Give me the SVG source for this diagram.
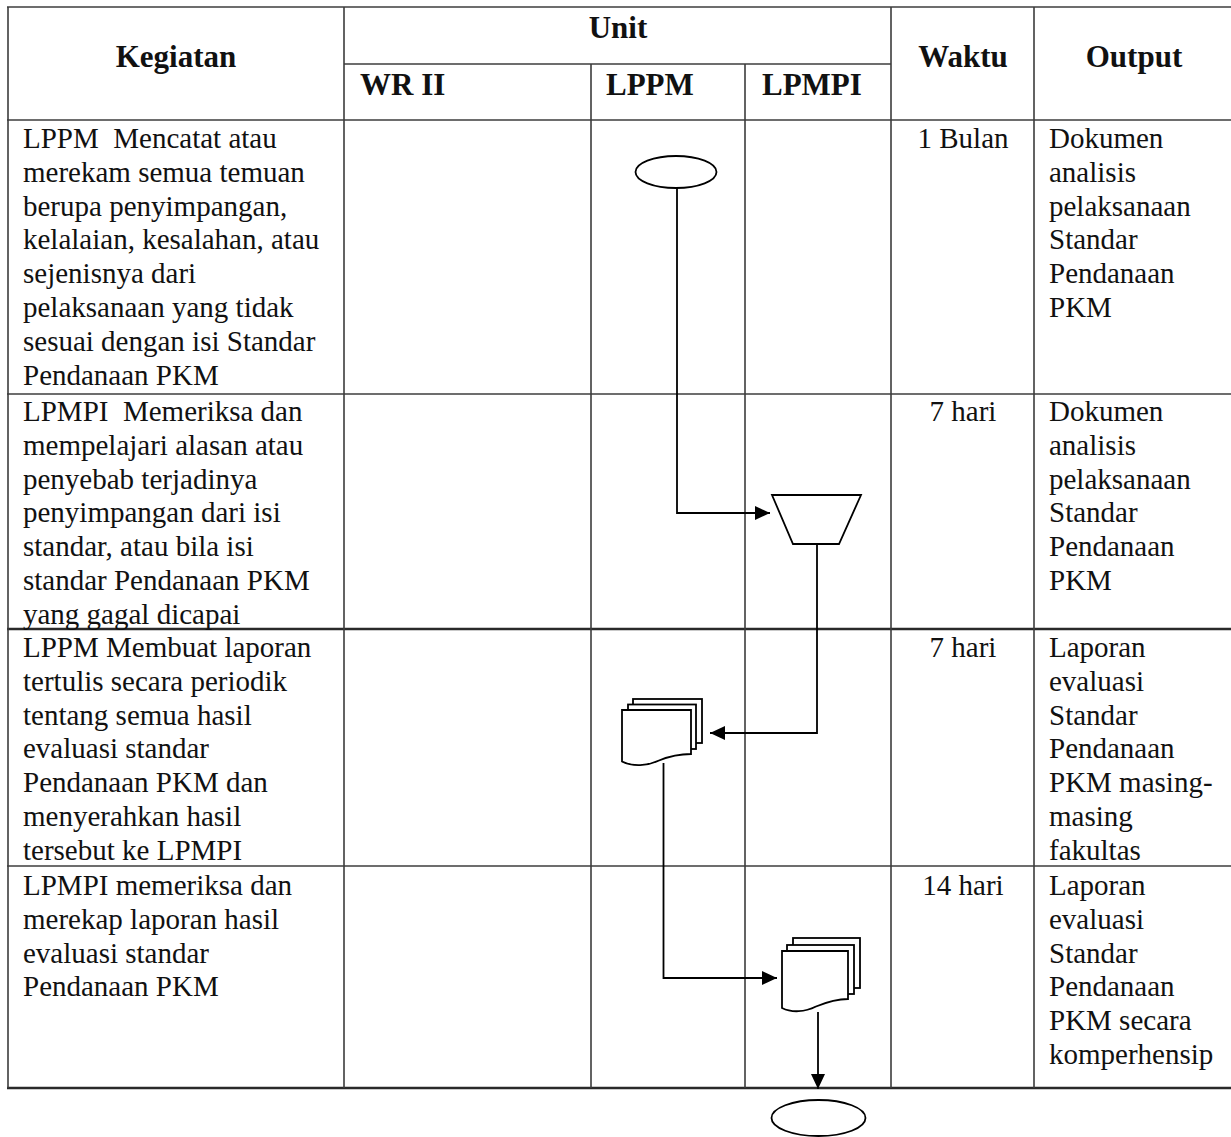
<svg xmlns="http://www.w3.org/2000/svg" width="1231" height="1137" viewBox="0 0 1231 1137">
<style>
.grid{stroke:#3c3c3c;stroke-width:1.6;fill:none}
.thick{stroke:#2a2a2a;stroke-width:2.4;fill:none}
.hd{font-family:"Liberation Serif","Times New Roman",serif;font-weight:bold;font-size:31px;fill:#111}
.tx{font-family:"Liberation Serif","Times New Roman",serif;font-size:29px;fill:#111}
.c{text-anchor:middle}
.shape{fill:#fff;stroke:#000;stroke-width:1.8}
.conn{fill:none;stroke:#000;stroke-width:1.8}
</style>
<defs>
<marker id="arr" markerUnits="userSpaceOnUse" markerWidth="16" markerHeight="16" refX="15" refY="7" orient="auto">
<path d="M0,0 L15,7 L0,14 Z" fill="#000"/>
</marker>
</defs>
<rect width="1231" height="1137" fill="#fff"/>
<g id="table">
<line class="grid" x1="7" y1="7" x2="1232" y2="7"/>
<line class="grid" x1="344" y1="64" x2="891" y2="64"/>
<line class="grid" x1="7" y1="120" x2="1232" y2="120"/>
<line class="grid" x1="7" y1="394" x2="1232" y2="394"/>
<line class="thick" x1="7" y1="629" x2="1232" y2="629"/>
<line class="grid" x1="7" y1="866" x2="1232" y2="866"/>
<line class="thick" x1="7" y1="1088" x2="1232" y2="1088"/>
<line class="grid" x1="8" y1="7" x2="8" y2="1088"/>
<line class="grid" x1="344" y1="7" x2="344" y2="1088"/>
<line class="grid" x1="591" y1="64" x2="591" y2="1088"/>
<line class="grid" x1="745" y1="64" x2="745" y2="1088"/>
<line class="grid" x1="891" y1="7" x2="891" y2="1088"/>
<line class="grid" x1="1034" y1="7" x2="1034" y2="1088"/>
<line class="grid" x1="1232" y1="7" x2="1232" y2="1088"/>
</g>
<g id="header">
<text class="hd c" x="176" y="67">Kegiatan</text>
<text class="hd c" x="618" y="38">Unit</text>
<text class="hd" x="360" y="95">WR II</text>
<text class="hd" x="606" y="95">LPPM</text>
<text class="hd" x="762" y="95">LPMPI</text>
<text class="hd c" x="963" y="67">Waktu</text>
<text class="hd c" x="1134" y="67">Output</text>
</g>
<g id="row1">
<text class="tx" x="23" y="148" xml:space="preserve">LPPM  Mencatat atau</text>
<text class="tx" x="23" y="181.8">merekam semua temuan</text>
<text class="tx" x="23" y="215.6">berupa penyimpangan,</text>
<text class="tx" x="23" y="249.4">kelalaian, kesalahan, atau</text>
<text class="tx" x="23" y="283.2">sejenisnya dari</text>
<text class="tx" x="23" y="317">pelaksanaan yang tidak</text>
<text class="tx" x="23" y="350.8">sesuai dengan isi Standar</text>
<text class="tx" x="23" y="384.6">Pendanaan PKM</text>
<text class="tx c" x="963" y="148">1 Bulan</text>
<text class="tx" x="1049" y="148">Dokumen</text>
<text class="tx" x="1049" y="181.8">analisis</text>
<text class="tx" x="1049" y="215.6">pelaksanaan</text>
<text class="tx" x="1049" y="249.4">Standar</text>
<text class="tx" x="1049" y="283.2">Pendanaan</text>
<text class="tx" x="1049" y="317">PKM</text>
</g>
<g id="row2">
<text class="tx" x="23" y="421" xml:space="preserve">LPMPI  Memeriksa dan</text>
<text class="tx" x="23" y="454.8">mempelajari alasan atau</text>
<text class="tx" x="23" y="488.6">penyebab terjadinya</text>
<text class="tx" x="23" y="522.4">penyimpangan dari isi</text>
<text class="tx" x="23" y="556.2">standar, atau bila isi</text>
<text class="tx" x="23" y="590">standar Pendanaan PKM</text>
<text class="tx" x="23" y="623.8">yang gagal dicapai</text>
<text class="tx c" x="963" y="421">7 hari</text>
<text class="tx" x="1049" y="421">Dokumen</text>
<text class="tx" x="1049" y="454.8">analisis</text>
<text class="tx" x="1049" y="488.6">pelaksanaan</text>
<text class="tx" x="1049" y="522.4">Standar</text>
<text class="tx" x="1049" y="556.2">Pendanaan</text>
<text class="tx" x="1049" y="590">PKM</text>
</g>
<g id="row3">
<text class="tx" x="23" y="657">LPPM Membuat laporan</text>
<text class="tx" x="23" y="690.8">tertulis secara periodik</text>
<text class="tx" x="23" y="724.6">tentang semua hasil</text>
<text class="tx" x="23" y="758.4">evaluasi standar</text>
<text class="tx" x="23" y="792.2">Pendanaan PKM dan</text>
<text class="tx" x="23" y="826">menyerahkan hasil</text>
<text class="tx" x="23" y="859.8">tersebut ke LPMPI</text>
<text class="tx c" x="963" y="657">7 hari</text>
<text class="tx" x="1049" y="657">Laporan</text>
<text class="tx" x="1049" y="690.8">evaluasi</text>
<text class="tx" x="1049" y="724.6">Standar</text>
<text class="tx" x="1049" y="758.4">Pendanaan</text>
<text class="tx" x="1049" y="792.2">PKM masing-</text>
<text class="tx" x="1049" y="826">masing</text>
<text class="tx" x="1049" y="859.8">fakultas</text>
</g>
<g id="row4">
<text class="tx" x="23" y="895">LPMPI memeriksa dan</text>
<text class="tx" x="23" y="928.8">merekap laporan hasil</text>
<text class="tx" x="23" y="962.6">evaluasi standar</text>
<text class="tx" x="23" y="996.4">Pendanaan PKM</text>
<text class="tx c" x="963" y="895">14 hari</text>
<text class="tx" x="1049" y="895">Laporan</text>
<text class="tx" x="1049" y="928.8">evaluasi</text>
<text class="tx" x="1049" y="962.6">Standar</text>
<text class="tx" x="1049" y="996.4">Pendanaan</text>
<text class="tx" x="1049" y="1030.2">PKM secara</text>
<text class="tx" x="1049" y="1064">komperhensip</text>
</g>
<g id="connectors">
<path class="conn" d="M677,188 L677,513 L770,513" marker-end="url(#arr)"/>
<path class="conn" d="M817,544 L817,733 L710,733" marker-end="url(#arr)"/>
<path class="conn" d="M663.5,763 L663.5,978 L777,978" marker-end="url(#arr)"/>
<path class="conn" d="M818,1012 L818,1089" marker-end="url(#arr)"/>
</g>
<g id="start">
<ellipse class="shape" cx="676" cy="172" rx="40.5" ry="16"/>
</g>
<g id="check">
<polygon class="shape" points="772,495 861,495 839,544 793,544"/>
</g>
<g id="report1">
<rect class="shape" x="633" y="699" width="69" height="44"/>
<rect class="shape" x="628" y="704.5" width="68" height="44.5"/>
<path class="shape" d="M622,710 L691,710 L691,754 C679,754 670,756 659,760.5 C647,766 633,767 622,761.5 Z"/>
</g>
<g id="report2">
<rect class="shape" x="793" y="938" width="67" height="50"/>
<rect class="shape" x="787" y="945" width="67" height="49"/>
<path class="shape" d="M782,951 L848,951 L848,999 C836,999 827,1002 816,1006.5 C805,1012 792,1013 782,1008 Z"/>
</g>
<g id="end">
<ellipse class="shape" cx="818.5" cy="1118" rx="47" ry="18"/>
</g>
</svg>
